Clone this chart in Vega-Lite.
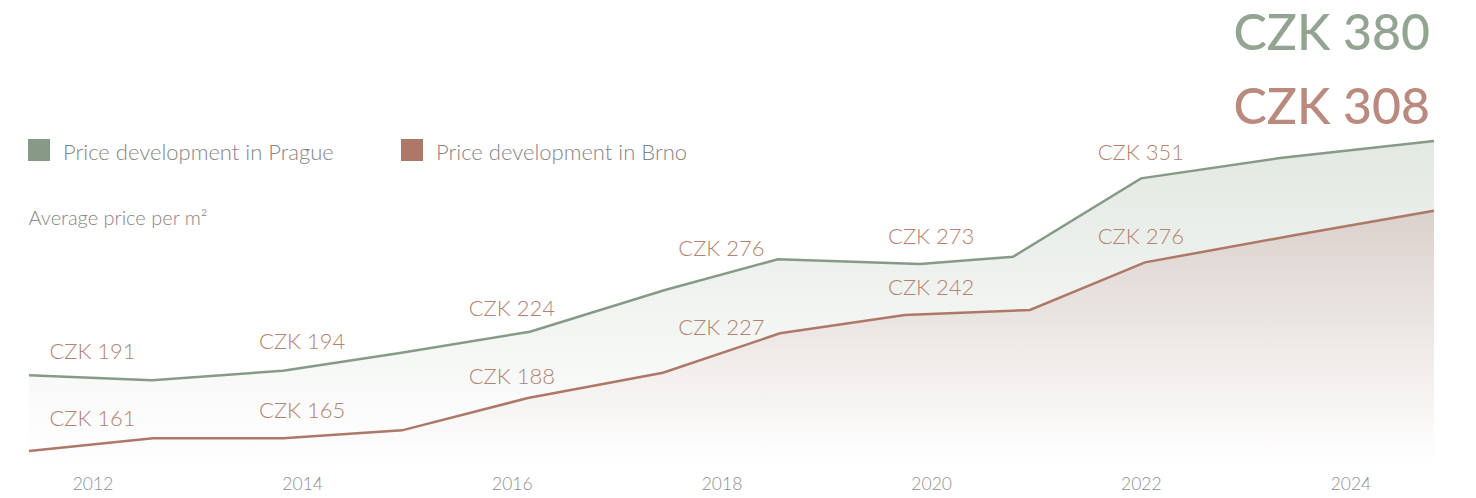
{
  "$schema": "https://vega.github.io/schema/vega-lite/v6.json",
  "width": 1476,
  "height": 462,
  "autosize": {"type": "none"},
  "padding": {"left": 0, "top": 0, "right": 0, "bottom": 36},
  "background": "#ffffff",
  "config": {"view": {"stroke": null}, "font": "Lato"},
  "datasets": {
    "series": [
      {"city": "Prague", "year": 2011.394, "level": 211.9},
      {"city": "Prague", "year": 2012.568, "level": 208.4},
      {"city": "Prague", "year": 2013.817, "level": 215.2},
      {"city": "Prague", "year": 2014.933, "level": 227.9},
      {"city": "Prague", "year": 2016.173, "level": 243.1},
      {"city": "Prague", "year": 2017.461, "level": 272.9},
      {"city": "Prague", "year": 2018.539, "level": 294.8},
      {"city": "Prague", "year": 2019.893, "level": 291.4},
      {"city": "Prague", "year": 2020.781, "level": 296.6},
      {"city": "Prague", "year": 2022.002, "level": 352.6},
      {"city": "Prague", "year": 2023.328, "level": 367.1},
      {"city": "Prague", "year": 2024.797, "level": 379.3},
      {"city": "Brno", "year": 2011.394, "level": 157.9},
      {"city": "Brno", "year": 2012.577, "level": 166.9},
      {"city": "Brno", "year": 2013.817, "level": 166.9},
      {"city": "Brno", "year": 2014.952, "level": 172.6},
      {"city": "Brno", "year": 2016.154, "level": 195.7},
      {"city": "Brno", "year": 2017.442, "level": 213.8},
      {"city": "Brno", "year": 2018.558, "level": 241.9},
      {"city": "Brno", "year": 2019.75, "level": 255.0},
      {"city": "Brno", "year": 2020.943, "level": 258.6},
      {"city": "Brno", "year": 2022.04, "level": 292.6},
      {"city": "Brno", "year": 2023.423, "level": 311.4},
      {"city": "Brno", "year": 2024.797, "level": 329.5}
    ],
    "labels": [
      {"city": "Prague", "year": 2012, "level": 210.1, "label": "CZK 191"},
      {"city": "Prague", "year": 2014, "level": 216.9, "label": "CZK 194"},
      {"city": "Prague", "year": 2016, "level": 240.9, "label": "CZK 224"},
      {"city": "Prague", "year": 2018, "level": 283.5, "label": "CZK 276"},
      {"city": "Prague", "year": 2020, "level": 292.1, "label": "CZK 273"},
      {"city": "Prague", "year": 2022, "level": 351.9, "label": "CZK 351"},
      {"city": "Brno", "year": 2012, "level": 162.5, "label": "CZK 161"},
      {"city": "Brno", "year": 2014, "level": 167.7, "label": "CZK 165"},
      {"city": "Brno", "year": 2016, "level": 192.4, "label": "CZK 188"},
      {"city": "Brno", "year": 2018, "level": 227.5, "label": "CZK 227"},
      {"city": "Brno", "year": 2020, "level": 255.7, "label": "CZK 242"},
      {"city": "Brno", "year": 2022, "level": 292.1, "label": "CZK 276"}
    ],
    "latest": [
      {"city": "Prague", "year": 2024.797, "level": 379.3, "label": "CZK 380"},
      {"city": "Brno", "year": 2024.797, "level": 329.5, "label": "CZK 308"}
    ]
  },
  "encoding": {
    "x": {
      "field": "year",
      "type": "quantitative",
      "scale": {"domain": [2011.1176, 2025.1976], "nice": false, "zero": false},
      "axis": {
        "values": [2012, 2014, 2016, 2018, 2020, 2022, 2024],
        "format": "d",
        "title": null,
        "domain": false,
        "ticks": false,
        "tickSize": 0,
        "grid": false,
        "labelFont": "Lato",
        "labelFontSize": 17.5,
        "labelFontWeight": 300,
        "labelColor": "#8e8e8e",
        "labelBaseline": "alphabetic",
        "labelPadding": 27,
        "labelFlush": false,
        "labelOverlap": false
      }
    },
    "y": {
      "field": "level",
      "type": "quantitative",
      "scale": {"domain": [150, 480], "nice": false, "zero": false},
      "axis": {
        "title": "Average price per m²",
        "titleAngle": 0,
        "titleX": 28,
        "titleY": 218,
        "titleAlign": "left",
        "titleBaseline": "middle",
        "titleFont": "Lato",
        "titleFontSize": 20,
        "titleFontWeight": 300,
        "titleColor": "#858585",
        "labels": false,
        "ticks": false,
        "domain": false,
        "grid": false
      }
    }
  },
  "layer": [
    {
      "data": {"name": "series"},
      "transform": [{"filter": "datum.city === 'Prague'"}],
      "mark": {
        "type": "area",
        "color": {
          "gradient": "linear", "x1": 0, "y1": 0, "x2": 0, "y2": 1,
          "stops": [{"offset": 0, "color": "#e2e8e2"}, {"offset": 1, "color": "#ffffff"}]
        }
      },
      "encoding": {"y2": {"datum": 150}}
    },
    {
      "data": {"name": "series"},
      "transform": [{"filter": "datum.city === 'Brno'"}],
      "mark": {
        "type": "area",
        "color": {
          "gradient": "linear", "x1": 0, "y1": 0, "x2": 0, "y2": 1,
          "stops": [{"offset": 0, "color": "#dbd1cc"}, {"offset": 1, "color": "#ffffff"}]
        }
      },
      "encoding": {"y2": {"datum": 150}}
    },
    {
      "data": {"name": "series"},
      "mark": {"type": "line", "strokeWidth": 2.5},
      "encoding": {
        "color": {
          "field": "city",
          "type": "nominal",
          "scale": {"domain": ["Prague", "Brno"], "range": ["#879a88", "#ae7868"]},
          "legend": {
            "title": null,
            "orient": "none",
            "legendX": 28,
            "legendY": 139,
            "direction": "horizontal",
            "symbolType": "square",
            "symbolSize": 484,
            "symbolStrokeWidth": 0,
            "labelFont": "Lato",
            "labelFontSize": 22,
            "labelFontWeight": 300,
            "labelColor": "#858585",
            "labelOffset": 13,
            "labelLimit": 600,
            "columnPadding": 67,
            "padding": 0,
            "labelExpr": "'Price development in ' + datum.label",
            "encode": {
              "symbols": {
                "update": {
                  "fill": {"scale": "color", "field": "value"},
                  "opacity": {"value": 1},
                  "strokeWidth": {"value": 0}
                }
              },
              "labels": {
                "update": {"dy": {"value": 3}}
              }
            }
          }
        }
      }
    },
    {
      "data": {"name": "labels"},
      "mark": {
        "type": "text",
        "font": "Lato",
        "fontSize": 22,
        "fontWeight": 300,
        "color": "#b5826f",
        "align": "center",
        "baseline": "middle",
        "dy": -26
      },
      "encoding": {"text": {"field": "label"}}
    },
    {
      "data": {"name": "latest"},
      "transform": [{"filter": "datum.city === 'Prague'"}],
      "mark": {
        "type": "text",
        "font": "Lato",
        "fontSize": 50,
        "fontWeight": 500,
        "color": "#93a592",
        "align": "right",
        "baseline": "middle",
        "dx": -4,
        "dy": -105.5
      },
      "encoding": {"text": {"field": "label"}}
    },
    {
      "data": {"name": "latest"},
      "transform": [{"filter": "datum.city === 'Brno'"}],
      "mark": {
        "type": "text",
        "font": "Lato",
        "fontSize": 50,
        "fontWeight": 500,
        "color": "#b98a7d",
        "align": "right",
        "baseline": "middle",
        "dx": -4,
        "dy": -102
      },
      "encoding": {"text": {"field": "label"}}
    }
  ]
}
